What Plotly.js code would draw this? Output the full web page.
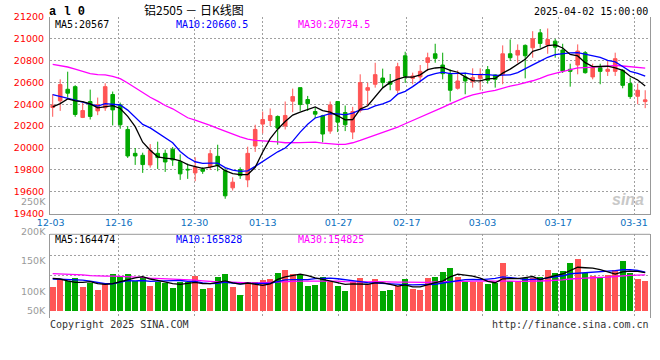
<!DOCTYPE html>
<html><head><meta charset="utf-8">
<script src="https://cdn.plot.ly/plotly-3.0.1.min.js"></script>
<style>html,body{margin:0;padding:0;background:#fff;}#c{width:660px;height:360px;}</style>
</head><body><div id="c"></div>
<script>
const dates = ['12-03','12-04','12-05','12-06','12-09','12-10','12-11','12-12','12-13','12-16','12-17','12-18','12-19','12-20','12-23','12-24','12-25','12-26','12-27','12-30','12-31',
'01-02','01-03','01-06','01-07','01-08','01-09','01-10','01-13','01-14','01-15','01-16','01-17','01-20','01-21','01-22','01-23','01-24','01-27',
'02-05','02-06','02-07','02-10','02-11','02-12','02-13','02-14','02-17','02-18','02-19','02-20','02-21','02-24','02-25','02-26','02-27','02-28',
'03-03','03-04','03-05','03-06','03-07','03-10','03-11','03-12','03-13','03-14','03-17','03-18','03-19','03-20','03-21','03-24','03-25','03-26','03-27','03-28','03-31',
'04-01','04-02'];
const open = [20371,20432,20538,20562,20280,20426,20340,20368,20490,20395,20170,19951,19933,19845,19951,19951,19988,19875,19805,19772,
19808,19830,19924,19793,19635,19802,19708,20018,20219,20252,20289,20201,20429,20553,20444,20334,20295,20155,20426,20325,
20146,20343,20529,20584,20641,20608,20529,20845,20638,20651,20784,20863,20760,20675,20547,20651,20608,20638,20718,20669,
20675,20863,20851,20940,20918,21055,20943,20979,20897,20721,20760,20873,20651,20736,20702,20702,20711,20590,20474,20425];
const high = [20493,20629,20699,20575,20413,20535,20462,20593,20517,20416,20201,20000,19957,20036,20058,19985,20009,19942,19857,19915,
19823,19985,20030,19817,19732,19823,20012,20213,20334,20362,20298,20426,20544,20553,20477,20371,20304,20426,20426,20389,
20377,20675,20599,20781,20727,20678,20781,20882,20690,20760,20873,20955,20873,20721,20711,20690,20730,20730,20751,20675,
20940,20994,20949,20949,21070,21090,21095,21000,20955,20772,20949,20888,20772,20772,20797,20873,20721,20645,20590,20529];
const low = [20286,20340,20462,20286,20274,20261,20301,20340,20207,20176,19909,19845,19772,19820,19808,19781,19836,19708,19717,19696,
19763,19799,19787,19535,19611,19717,19641,19964,20134,20201,20030,20170,20328,20340,20340,20274,20052,20130,20146,20155,
20082,20325,20395,20553,20553,20529,20502,20596,20584,20599,20705,20781,20629,20426,20535,20492,20553,20529,20590,20553,
20584,20797,20781,20638,20827,20918,20863,20827,20687,20562,20675,20681,20629,20584,20660,20660,20547,20450,20401,20365];
const close = [20392,20581,20502,20307,20343,20289,20398,20562,20349,20213,19927,19927,19848,19979,19912,19872,19890,19763,19800,19824,
19787,19948,19839,19562,19687,19747,19951,20170,20261,20298,20182,20298,20471,20398,20407,20310,20128,20395,20237,20213,
20334,20599,20553,20672,20599,20584,20745,20657,20660,20702,20827,20821,20681,20529,20614,20614,20645,20675,20620,20629,
20863,20827,20894,20845,21000,20958,20994,20924,20705,20702,20888,20690,20745,20702,20721,20818,20574,20471,20529,20441];
const ma5 = [20377,20407,20450,20432,20425,20404,20368,20380,20388,20362,20290,20196,20053,19979,19919,19908,19900,19883,19847,19830,
19813,19824,19840,19792,19765,19757,19757,19823,19963,20085,20172,20242,20302,20329,20351,20377,20343,20328,20295,20257,
20261,20356,20387,20474,20551,20601,20631,20651,20649,20670,20718,20733,20738,20712,20694,20652,20617,20615,20634,20637,
20686,20723,20767,20812,20886,20905,20938,20944,20916,20857,20843,20782,20746,20745,20749,20735,20712,20657,20623,20567];
const ma10 = [20489,20474,20456,20438,20420,20398,20383,20407,20401,20394,20347,20282,20216,20184,20140,20099,20048,19968,19913,19874,
19860,19862,19861,19820,19797,19785,19791,19832,19878,19925,19965,20000,20063,20146,20218,20275,20292,20315,20312,20304,
20319,20349,20357,20385,20404,20431,20493,20519,20562,20611,20660,20682,20695,20681,20682,20685,20675,20677,20673,20666,
20669,20670,20691,20723,20761,20796,20831,20855,20864,20871,20874,20860,20845,20831,20803,20789,20747,20702,20684,20658];
const ma30 = [20766,20757,20742,20723,20702,20681,20672,20669,20657,20635,20596,20550,20505,20465,20429,20389,20359,20316,20277,20256,
20234,20207,20179,20152,20128,20103,20082,20070,20066,20064,20057,20048,20047,20050,20052,20053,20044,20038,20034,20034,
20048,20070,20094,20117,20140,20164,20192,20222,20251,20280,20314,20344,20372,20404,20435,20464,20487,20504,20516,20527,
20549,20567,20581,20596,20616,20637,20666,20684,20699,20716,20734,20737,20744,20745,20749,20757,20751,20745,20740,20732];
// volume in thousands of lots
const volumeK = [107,139,132,147,107,122,92,117,163,156,163,132,144,110,126,122,102,126,126,154,
96,102,150,163,107,70,126,126,136,141,169,181,163,159,111,114,148,126,110,88,
126,147,117,141,88,92,111,141,96,92,147,151,174,191,151,126,126,129,119,122,
214,132,126,144,144,148,181,166,178,211,231,170,156,147,159,182,222,170,141,133];
const volMa5K = [144,141,133,126,126.4,129.4,120,117,120.2,130,138.2,146.2,151.6,141,135,126.8,120.8,117.2,120.4,126,
120.8,120.8,125.6,133,123.6,118.4,123.2,118.4,113,119.8,139.6,150.6,158,162.6,156.6,145.6,139,131.6,121.8,117.2,
119.6,119.4,117.6,123.8,123.8,117,109.8,114.6,105.6,106.4,117.4,125.4,132,151,162.8,158.6,153.6,144.6,130.2,124.4,
142,143.2,142.6,147.6,152,138.8,148.6,156.6,163.4,176.8,193.4,191.2,189.2,183,172.6,162.8,173.2,176,174.8,169.6];
const volMa10K = [141,140,139,138,136,132,126,120,120,128.2,133.8,133.1,134.3,130.6,132.5,132.5,133.5,134.4,130.7,130.5,
123.8,120.8,121.4,126.7,124.8,119.6,122,122,123,121.7,129,136.9,138.2,137.8,138.2,142.6,144.8,144.8,142.2,136.9,
132.6,129.2,124.6,122.8,120.5,118.3,114.6,116.1,114.7,115.1,117.2,117.6,123.3,128.3,134.6,138,139.5,138.3,140.6,143.6,
150.3,148.4,143.6,138.9,138.2,140.4,145.9,149.6,155.5,164.4,166.1,169.9,172.9,173.2,174.7,178.1,182.2,182.6,178.9,171.1];
const volMa30K = [165,164,162,160,159,156,154,154,154,153,151,150,148,145,144,142,141,139,138,136,
133,129,128,128,126,125,123,123,125,126.8,128.9,130.3,131.3,131.7,131.8,131.6,133.4,133.7,132,129.7,
128.5,129,128.1,129.1,127.8,126.8,127.1,127.6,126.6,124.6,126.3,127.9,128.7,129.6,131.1,133,133,133.1,132.5,131.9,
133.4,131.7,130.5,130,131.1,132.2,133.3,134.7,136.9,141,144.5,145.3,146.6,146.8,149.2,152.2,155.9,156.8,158.3,159.7];

const priceTicks = [19400,19600,19800,20000,20200,20400,20600,20800,21000,21200];
const xTickLabels = ['12-03','12-16','12-30','01-13','01-27','02-17','03-03','03-17','03-31'];
const volTickText = ['250K','200K','150K','100K','50K'];
const volGridVals = [66750,155750,244750];
const maPriceText = ['MA5:20567','MA10:20660.5','MA30:20734.5'];
const maVolText = ['MA5:164474','MA10:165828','MA30:154825'];
const titleText = '铝2505 － 日K线图';
const stamp = '2025-04-02 15:00:00';

const RED = '#ff5555', GREEN = '#00a800', GRID = '#a0a0a0', BORDER = '#999999';
const MA_COLORS = ['#000000','#0000ff','#ff00ff'];
const H = 360;
const py = p => 1 - p / H;          // pixel row -> paper y
const px = p => (p - 50) / 600;     // pixel col -> paper x

const idx = dates.map((d, i) => i);
const K = a => a.map(v => v * 1000);
const volume = K(volumeK);
const tickPos = xTickLabels.map(l => dates.indexOf(l) * 1.0101 - 0.27);

const traces = [
  {type:'candlestick', x:idx, open:open, high:high, low:low, close:close, xaxis:'x', yaxis:'y',
   increasing:{line:{color:RED,width:1}, fillcolor:RED},
   decreasing:{line:{color:GREEN,width:1}, fillcolor:GREEN},
   whiskerwidth:0, hoverinfo:'skip'},
  {type:'scatter', mode:'lines', x:idx, y:ma30, line:{color:MA_COLORS[2], width:1.3}, xaxis:'x', yaxis:'y', hoverinfo:'skip'},
  {type:'scatter', mode:'lines', x:idx, y:ma10, line:{color:MA_COLORS[1], width:1.3}, xaxis:'x', yaxis:'y', hoverinfo:'skip'},
  {type:'scatter', mode:'lines', x:idx, y:ma5, line:{color:MA_COLORS[0], width:1.3}, xaxis:'x', yaxis:'y', hoverinfo:'skip'},
  {type:'bar', x:idx, y:volume, width:0.78, xaxis:'x2', yaxis:'y2', hoverinfo:'skip',
   marker:{color: close.map((c, i) => c >= open[i] ? RED : GREEN), line:{width:0}}},
  {type:'scatter', mode:'lines', x:idx, y:K(volMa30K), line:{color:MA_COLORS[2], width:1.3}, xaxis:'x2', yaxis:'y2', hoverinfo:'skip'},
  {type:'scatter', mode:'lines', x:idx, y:K(volMa10K), line:{color:MA_COLORS[1], width:1.3}, xaxis:'x2', yaxis:'y2', hoverinfo:'skip'},
  {type:'scatter', mode:'lines', x:idx, y:K(volMa5K), line:{color:MA_COLORS[0], width:1.3}, xaxis:'x2', yaxis:'y2', hoverinfo:'skip'}
];

const monoFont = {family:'DejaVu Sans Mono', size:10};
const maX = [54, 175, 297];
const annotations = [];
const ann = o => annotations.push(Object.assign({xref:'paper', yref:'paper', showarrow:false, borderpad:0}, o));
maPriceText.forEach((t, i) => ann({text:t, x:px(maX[i]), y:py(24.5), xanchor:'left', yanchor:'middle',
  font:Object.assign({}, monoFont, {color:MA_COLORS[i]})}));
maVolText.forEach((t, i) => ann({text:t, x:px(maX[i]), y:py(239.5), xanchor:'left', yanchor:'middle',
  font:Object.assign({}, monoFont, {color:MA_COLORS[i]})}));
const volLabelRows = [201, 231, 260.5, 291, 310.5];
volTickText.forEach((t, i) => ann({text:t, x:px(47), y:py(volLabelRows[i]), xanchor:'right', yanchor:'middle',
  font:{family:'DejaVu Sans', size:9.5, color:'#9a9a9a'}}));
ann({text:'<b>a l 0</b>', x:px(48), y:py(12), xanchor:'left', yanchor:'middle', font:{family:'Liberation Mono', size:12, color:'#000'}});
ann({text:titleText, x:px(194), y:py(9.5), xanchor:'center', yanchor:'middle', font:{family:'Noto Sans CJK SC', size:12, color:'#000'}});
ann({text:stamp, x:px(649), y:py(12), xanchor:'right', yanchor:'middle', font:{family:'DejaVu Sans Mono', size:10, color:'#000'}});
ann({text:'Copyright 2025 SINA.COM', x:px(49), y:py(324), xanchor:'left', yanchor:'middle', font:{family:'DejaVu Sans Mono', size:10, color:'#333'}});
ann({text:'http://finance.sina.com.cn', x:px(650), y:py(324), xanchor:'right', yanchor:'middle', font:{family:'DejaVu Sans Mono', size:10, color:'#333'}});
ann({text:'<i><b>sina</b></i>', x:px(628), y:py(199), xanchor:'center', yanchor:'middle', font:{family:'Liberation Sans', size:16, color:'#c8c8c8'}});

const gridAxis = {showgrid:true, gridcolor:GRID, gridwidth:1, griddash:'2px,2px', zeroline:false, fixedrange:true};
const layout = {
  width:660, height:360, margin:{l:50, r:10, t:0, b:0}, paper_bgcolor:'#fff', plot_bgcolor:'#fff',
  showlegend:false, boxgap:0.32, bargap:0, hovermode:false,
  xaxis:Object.assign({}, gridAxis, {domain:[0,1], anchor:'y', range:[-0.36, 79.64], tickmode:'array', tickvals:tickPos,
    ticktext:xTickLabels, ticks:'', tickfont:{family:'DejaVu Sans', size:9.5, color:'#0a6fc0'}, showline:true,
    linecolor:BORDER, linewidth:1, rangeslider:{visible:false}}),
  yaxis:Object.assign({}, gridAxis, {domain:[py(213.5), py(17)], anchor:'x', range:[19400, 21200], tickmode:'array',
    tickvals:priceTicks, ticktext:priceTicks.map(String), ticks:'', tickfont:{family:'DejaVu Sans', size:9.5, color:'#ff0000'},
    showline:true, mirror:true, linecolor:BORDER, linewidth:1, ticklabelstandoff:3}),
  xaxis2:Object.assign({}, gridAxis, {domain:[0,1], anchor:'y2', matches:'x', tickmode:'array', tickvals:tickPos,
    showticklabels:false, ticks:'', showline:false}),
  yaxis2:Object.assign({}, gridAxis, {domain:[py(318), py(234.3)], anchor:'x2', range:[-32485, 339980], tickmode:'array',
    tickvals:volGridVals, showticklabels:false, ticks:'', showline:true, mirror:true, linecolor:BORDER, linewidth:1}),
  shapes:[{type:'line', xref:'paper', yref:'paper', x0:0, x1:1, y0:py(234.3), y1:py(234.3), line:{color:BORDER, width:1}}],
  annotations:annotations
};
Plotly.newPlot('c', traces, layout, {staticPlot:true, displayModeBar:false});
</script></body></html>
